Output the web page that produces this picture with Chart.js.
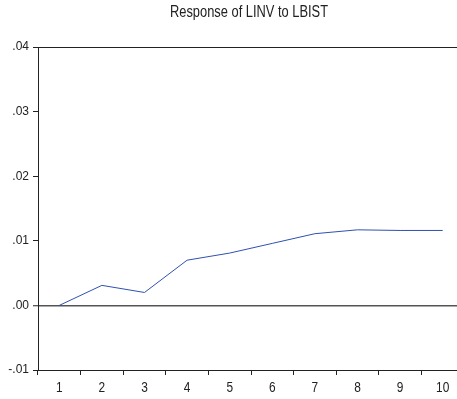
<!DOCTYPE html>
<html>
<head>
<meta charset="utf-8">
<script src="https://cdn.jsdelivr.net/npm/chart.js@4/dist/chart.umd.min.js"></script>
<style>
html,body{margin:0;padding:0;background:#fff;overflow:hidden;width:457px;height:399px;}
#wrap{position:absolute;left:0;top:0;width:465px;height:399px;}
</style>
</head>
<body>
<div id="wrap"><canvas id="c" width="465" height="399"></canvas></div>
<script>
const titleText = "Response of LINV to LBIST";
const periods = ["1","2","3","4","5","6","7","8","9","10"];
const response = [0.0000, 0.0031, 0.0020, 0.0070, 0.0081, 0.0096, 0.0111, 0.0117, 0.0116, 0.0116];
const yTicks = [-0.01, 0.00, 0.01, 0.02, 0.03, 0.04];
const yTickLabels = ["-.01", ".00", ".01", ".02", ".03", ".04"];

const FONT = "'Liberation Sans',Arial,sans-serif";

function narrowText(ctx, text, x, y, size, sx) {
  ctx.save();
  ctx.font = size + "px " + FONT;
  ctx.textAlign = 'center';
  ctx.textBaseline = 'middle';
  ctx.translate(x, y);
  ctx.scale(sx, 1);
  ctx.fillText(text, 0, 0);
  ctx.restore();
}

const textPlugin = {
  id: 'narrowText',
  afterDraw(chart) {
    const ctx = chart.ctx;
    const a = chart.chartArea;
    ctx.fillStyle = '#222';
    // title
    ctx.save();
    ctx.font = "16px " + FONT;
    const w = ctx.measureText(titleText).width;
    ctx.restore();
    ctx.fillStyle = '#222';
    narrowText(ctx, titleText, 249, 12.5, 16, 158 / w);
    // x labels
    const xs = chart.scales.x;
    periods.forEach((p, i) => {
      narrowText(ctx, p, xs.getPixelForValue(i), 387.5, 14.5, 0.82);
    });
  }
};

new Chart(document.getElementById('c'), {
  type: 'line',
  data: {
    labels: periods,
    datasets: [{
      data: response,
      borderColor: '#3050b0',
      borderWidth: 1,
      pointRadius: 0,
      tension: 0,
      fill: false
    }]
  },
  options: {
    responsive: false,
    animation: false,
    events: [],
    layout: { padding: { top: 47, right: 1, left: 0, bottom: 0 } },
    plugins: { legend: { display: false }, title: { display: false }, tooltip: { enabled: false } },
    scales: {
      x: {
        type: 'category',
        offset: true,
        afterFit(s) { s.height = 29; },
        grid: { offset: true, color: 'rgba(0,0,0,0)', drawTicks: true, tickLength: 5, tickColor: '#222', tickWidth: 1 },
        border: { display: true, color: '#222', width: 1 },
        ticks: { display: true, color: 'rgba(0,0,0,0)', font: { family: FONT, size: 12 }, padding: 4, maxRotation: 0, autoSkip: false }
      },
      y: {
        min: -0.01,
        max: 0.04,
        afterFit(s) { s.width = 38; },
        afterBuildTicks(s) { s.ticks = yTicks.map(v => ({ value: v })); },
        grid: {
          color: (c) => (c.tick && (c.tick.value === 0)) ? '#555' : (c.tick && c.tick.value === 0.04 ? '#222' : 'rgba(0,0,0,0)'),
          lineWidth: (c) => (c.tick && c.tick.value === 0) ? 1.5 : 1,
          drawTicks: true, tickLength: 5, tickColor: '#222', tickWidth: 1
        },
        border: { display: true, color: '#222', width: 1 },
        ticks: {
          color: '#222', font: { family: FONT, size: 12 }, padding: 4,
          callback: (v) => { const i = yTicks.findIndex(t => Math.abs(t - v) < 1e-9); return i >= 0 ? yTickLabels[i] : ''; }
        }
      }
    }
  },
  plugins: [textPlugin]
});
</script>
</body>
</html>
